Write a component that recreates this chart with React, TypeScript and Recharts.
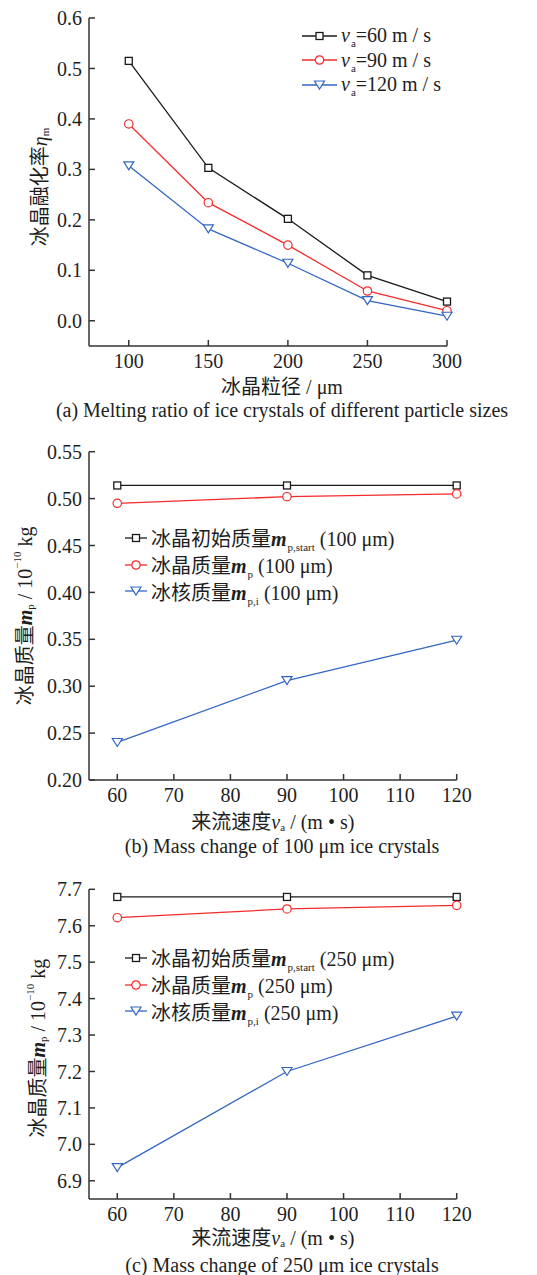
import React from 'react';
import { LineChart, Line, XAxis, YAxis, Legend, Label } from 'recharts';

// (a) melting ratio vs particle size
const sizeCats = [100, 150, 200, 250, 300];
const melt60 = [0.515, 0.303, 0.202, 0.09, 0.038];
const melt90 = [0.39, 0.234, 0.15, 0.059, 0.02];
const melt120 = [0.307, 0.182, 0.114, 0.04, 0.009];
const sizeTicks = [100, 150, 200, 250, 300];
const meltTicks = [0, 0.1, 0.2, 0.3, 0.4, 0.5, 0.6];

// (b) / (c) mass vs inflow speed
const speedCats = [60, 90, 120];
const start100 = [0.514, 0.514, 0.514];
const mass100 = [0.495, 0.502, 0.505];
const core100 = [0.24, 0.306, 0.349];
const start250 = [7.679, 7.679, 7.679];
const mass250 = [7.622, 7.646, 7.656];
const core250 = [6.936, 7.2, 7.352];
const speedTicks = [60, 70, 80, 90, 100, 110, 120];
const mass100Ticks = [0.2, 0.25, 0.3, 0.35, 0.4, 0.45, 0.5, 0.55];
const mass250Ticks = [6.9, 7.0, 7.1, 7.2, 7.3, 7.4, 7.5, 7.6, 7.7];

const FONT = "'Liberation Serif', 'Times New Roman', 'Noto Sans CJK SC', serif";
const INK = '#1e1e1e';
const AXIS = '#333';
const BLACK = '#1a1a1a';
const RED = '#f52a2a';
const BLUE = '#3266c4';

const meltData = sizeCats.map((x, i) => ({ x, a: melt60[i], b: melt90[i], c: melt120[i] }));
const m100Data = speedCats.map((x, i) => ({ x, a: start100[i], b: mass100[i], c: core100[i] }));
const m250Data = speedCats.map((x, i) => ({ x, a: start250[i], b: mass250[i], c: core250[i] }));

type Shape = 'square' | 'circle' | 'tri';

function Marker(props: any) {
  const { cx, cy, stroke, shape } = props;
  if (cx == null || cy == null) return null;
  if (shape === 'square')
    return <rect x={cx - 3.5} y={cy - 3.5} width={7} height={7} fill="#fff" stroke={stroke} strokeWidth={1.3} />;
  if (shape === 'circle')
    return <circle cx={cx} cy={cy} r={4.2} fill="#fff" stroke={stroke} strokeWidth={1.2} />;
  return (
    <polygon
      points={`${cx - 5},${cy - 4} ${cx + 5},${cy - 4} ${cx},${cy + 4}`}
      fill="#fff"
      stroke={stroke}
      strokeWidth={1.2}
    />
  );
}

function LegendIcon({ shape, color, len }: { shape: Shape; color: string; len: number }) {
  const c = len / 2;
  return (
    <svg width={len} height={12} style={{ display: 'block', flex: 'none' }}>
      <line x1={0} y1={6} x2={len} y2={6} stroke={color} strokeWidth={1.3} />
      <Marker cx={c} cy={6} stroke={color} shape={shape} />
    </svg>
  );
}

const sub = (t: string) => (
  <span style={{ fontSize: 11, position: 'relative', top: 5, marginLeft: 1 }}>{t}</span>
);
const mBold = <b><i>m</i></b>;

function makeLegend(rows: { shape: Shape; color: string; label: React.ReactNode }[], len: number, rowH: number) {
  return () => (
    <div style={{ fontFamily: FONT, fontSize: 20, color: INK }}>
      {rows.map((r, i) => (
        <div key={i} style={{ display: 'flex', alignItems: 'center', height: rowH, whiteSpace: 'nowrap' }}>
          <LegendIcon shape={r.shape} color={r.color} len={len} />
          <span style={{ marginLeft: 4 }}>{r.label}</span>
        </div>
      ))}
    </div>
  );
}

const legendA = makeLegend(
  [
    { shape: 'square', color: BLACK, label: <><i>v</i>{sub('a')}=60 m / s</> },
    { shape: 'circle', color: RED, label: <><i>v</i>{sub('a')}=90 m / s</> },
    { shape: 'tri', color: BLUE, label: <><i>v</i>{sub('a')}=120 m / s</> },
  ],
  35,
  24.5,
);

const massLegend = (um: string) =>
  makeLegend(
    [
      { shape: 'square', color: BLACK, label: <>冰晶初始质量{mBold}{sub('p,start')} ({um} μm)</> },
      { shape: 'circle', color: RED, label: <>冰晶质量{mBold}{sub('p')} ({um} μm)</> },
      { shape: 'tri', color: BLUE, label: <>冰核质量{mBold}{sub('p,i')} ({um} μm)</> },
    ],
    22,
    26.8,
  );

const tickStyle = { fontSize: 20, fill: INK, fontFamily: FONT };
const axisLineStyle = { stroke: AXIS, strokeWidth: 1.5 };

function XTitle({ viewBox, dx, dy, children }: any) {
  const cx = viewBox.x + viewBox.width / 2 + dx;
  const cy = viewBox.y + dy;
  return (
    <text x={cx} y={cy} textAnchor="middle" dominantBaseline="central" fontFamily={FONT} fontSize={20} fill={INK}>
      {children}
    </text>
  );
}

function YTitle({ viewBox, dx, dy, children }: any) {
  const cx = viewBox.x + viewBox.width + dx;
  const cy = viewBox.y + viewBox.height / 2 + dy;
  return (
    <text
      x={cx}
      y={cy}
      transform={`rotate(-90 ${cx} ${cy})`}
      textAnchor="middle"
      dominantBaseline="central"
      fontFamily={FONT}
      fontSize={20}
      fill={INK}
    >
      {children}
    </text>
  );
}

const speedTitle = (
  <>
    来流速度<tspan fontStyle="italic">v</tspan>
    <tspan fontSize={11} dy={5}>a</tspan>
    <tspan dy={-5}> / (m • s)</tspan>
  </>
);
const massTitle = (
  <>
    冰晶质量<tspan fontStyle="italic" fontWeight="bold">m</tspan>
    <tspan fontSize={11} dy={5}>p</tspan>
    <tspan dy={-5}> / 10</tspan>
    <tspan fontSize={11} dy={-8}>−10</tspan>
    <tspan dy={8}> kg</tspan>
  </>
);

function lines() {
  return [
    <Line key="a" type="linear" dataKey="a" stroke={BLACK} strokeWidth={1.3} dot={<Marker shape="square" />} activeDot={false} isAnimationActive={false} />,
    <Line key="b" type="linear" dataKey="b" stroke={RED} strokeWidth={1.3} dot={<Marker shape="circle" />} activeDot={false} isAnimationActive={false} />,
    <Line key="c" type="linear" dataKey="c" stroke={BLUE} strokeWidth={1.3} dot={<Marker shape="tri" />} activeDot={false} isAnimationActive={false} />,
  ];
}

const captionStyle: React.CSSProperties = {
  position: 'absolute',
  left: 0,
  width: 564,
  textAlign: 'center',
  fontFamily: FONT,
  fontSize: 20,
  lineHeight: '22px',
  color: INK,
  whiteSpace: 'nowrap',
};

export default function App() {
  return (
    <div style={{ position: 'absolute', left: 0, top: 0, width: 537, height: 1275, background: '#fff' }}>
      {/* (a) */}
      <div style={{ position: 'absolute', left: 0, top: 0 }}>
        <LineChart width={537} height={425} data={meltData} margin={{ top: 18, right: 90, left: 29, bottom: 49 }}>
          <XAxis
            dataKey="x"
            type="number"
            domain={[75, 300]}
            ticks={sizeTicks}
            height={30}
            tickSize={-6}
            tickMargin={14}
            tick={tickStyle}
            axisLine={axisLineStyle}
            tickLine={axisLineStyle}
          >
            <Label content={(p: any) => <XTitle viewBox={p.viewBox} dx={14} dy={41}>冰晶粒径 / μm</XTitle>} />
          </XAxis>
          <YAxis
            type="number"
            domain={[-0.05, 0.6]}
            ticks={meltTicks}
            width={60}
            tickSize={-6}
            tickMargin={13}
            tick={tickStyle}
            tickFormatter={(v: number) => v.toFixed(1)}
            axisLine={axisLineStyle}
            tickLine={axisLineStyle}
          >
            <Label
              content={(p: any) => (
                <YTitle viewBox={p.viewBox} dx={-49} dy={5}>
                  冰晶融化率<tspan fontStyle="italic">η</tspan>
                  <tspan fontSize={11} dy={5}>m</tspan>
                </YTitle>
              )}
            />
          </YAxis>
          <Legend
            layout="horizontal"
            verticalAlign="middle"
            align="center"
            content={legendA}
            wrapperStyle={{ left: 302, top: 23.5, width: 'auto' }}
          />
          {lines()}
        </LineChart>
      </div>
      <div style={{ ...captionStyle, top: 399 }}>(a) Melting ratio of ice crystals of different particle sizes</div>

      {/* (b) */}
      <div style={{ position: 'absolute', left: 0, top: 425 }}>
        <LineChart width={537} height={425} data={m100Data} margin={{ top: 26.7, right: 80.3, left: 29, bottom: 40 }}>
          <XAxis
            dataKey="x"
            type="number"
            domain={[55, 120]}
            ticks={speedTicks}
            height={30}
            tickSize={-6}
            tickMargin={14}
            tick={tickStyle}
            axisLine={axisLineStyle}
            tickLine={axisLineStyle}
          >
            <Label content={(p: any) => <XTitle viewBox={p.viewBox} dx={0} dy={42}>{speedTitle}</XTitle>} />
          </XAxis>
          <YAxis
            type="number"
            domain={[0.2, 0.55]}
            ticks={mass100Ticks}
            width={60}
            tickSize={-6}
            tickMargin={13}
            tick={tickStyle}
            tickFormatter={(v: number) => v.toFixed(2)}
            axisLine={axisLineStyle}
            tickLine={axisLineStyle}
          >
            <Label content={(p: any) => <YTitle viewBox={p.viewBox} dx={-64} dy={0}>{massTitle}</YTitle>} />
          </YAxis>
          <Legend
            layout="horizontal"
            verticalAlign="middle"
            align="center"
            content={massLegend('100')}
            wrapperStyle={{ left: 125, top: 99.5, width: 'auto' }}
          />
          {lines()}
        </LineChart>
      </div>
      <div style={{ ...captionStyle, top: 835 }}>(b) Mass change of 100 μm ice crystals</div>

      {/* (c) */}
      <div style={{ position: 'absolute', left: 0, top: 850 }}>
        <LineChart width={537} height={425} data={m250Data} margin={{ top: 39.3, right: 80.3, left: 29, bottom: 46 }}>
          <XAxis
            dataKey="x"
            type="number"
            domain={[55, 120]}
            ticks={speedTicks}
            height={30}
            tickSize={-6}
            tickMargin={14}
            tick={tickStyle}
            axisLine={axisLineStyle}
            tickLine={axisLineStyle}
          >
            <Label content={(p: any) => <XTitle viewBox={p.viewBox} dx={0} dy={39}>{speedTitle}</XTitle>} />
          </XAxis>
          <YAxis
            type="number"
            domain={[6.85, 7.7]}
            ticks={mass250Ticks}
            width={60}
            tickSize={-6}
            tickMargin={13}
            tick={tickStyle}
            tickFormatter={(v: number) => v.toFixed(1)}
            axisLine={axisLineStyle}
            tickLine={axisLineStyle}
          >
            <Label content={(p: any) => <YTitle viewBox={p.viewBox} dx={-51} dy={4}>{massTitle}</YTitle>} />
          </YAxis>
          <Legend
            layout="horizontal"
            verticalAlign="middle"
            align="center"
            content={massLegend('250')}
            wrapperStyle={{ left: 125, top: 94.5, width: 'auto' }}
          />
          {lines()}
        </LineChart>
      </div>
      <div style={{ ...captionStyle, top: 1254 }}>(c) Mass change of 250 μm ice crystals</div>
    </div>
  );
}
